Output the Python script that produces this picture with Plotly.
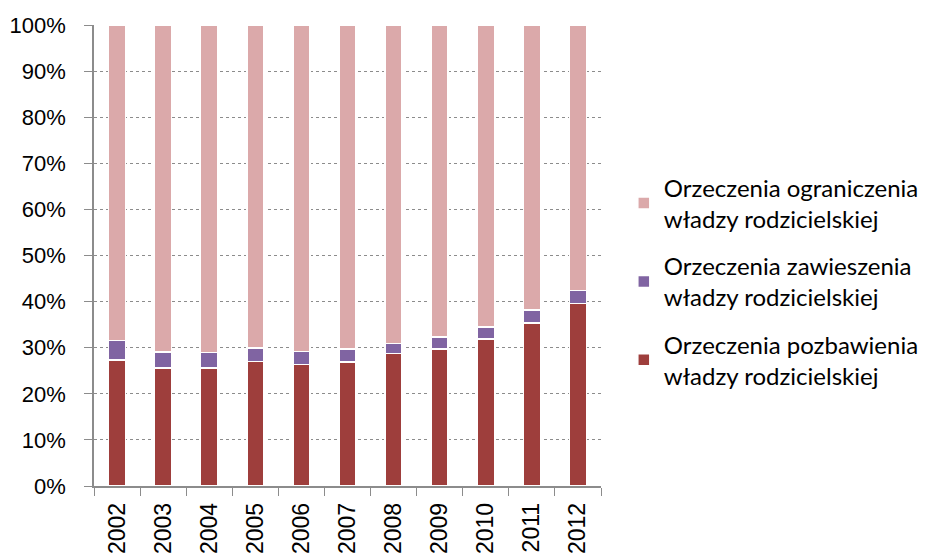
import plotly.graph_objects as go

years = ["2002", "2003", "2004", "2005", "2006", "2007", "2008", "2009", "2010", "2011", "2012"]
pozbawienia = [27.3, 25.6, 25.6, 27.0, 26.4, 26.9, 28.7, 29.7, 31.9, 35.4, 39.6]
zawieszenia = [4.3, 3.5, 3.4, 2.9, 2.8, 2.8, 2.2, 2.6, 2.6, 2.8, 2.8]
ograniczenia = [68.4, 70.9, 71.0, 70.1, 70.8, 70.3, 69.1, 67.7, 65.5, 61.8, 57.6]

names = [
    "Orzeczenia pozbawienia<br>władzy rodzicielskiej",
    "Orzeczenia zawieszenia<br>władzy rodzicielskiej",
    "Orzeczenia ograniczenia<br>władzy rodzicielskiej",
]
colors = ["#9E3E3C", "#8064A2", "#DBA9AA"]
ranks = [3, 2, 1]

fig = go.Figure()
for i, (vals, name, col) in enumerate(zip([pozbawienia, zawieszenia, ograniczenia], names, colors)):
    fig.add_trace(go.Bar(
        x=years, y=vals, name=name, legendgroup=f"g{i}", legendrank=ranks[i],
        marker=dict(color=col, line=dict(color="white", width=1.5)),
    ))

fig.update_layout(
    width=921, height=545,
    barmode="stack", barnorm="percent", bargap=0.63,
    plot_bgcolor="white", paper_bgcolor="white",
    margin=dict(l=86, r=328, t=17, b=67, autoexpand=False),
    font=dict(family="Liberation Sans, Arial", size=22, color="black"),
    legend=dict(
        x=1.045, y=0.443, xanchor="left", yanchor="middle",
        traceorder="grouped", tracegroupgap=13,
        font=dict(family="Lato", size=24, color="black"),
        itemwidth=30,
    ),
    showlegend=True,
)
fig.update_xaxes(
    type="category", showline=True, linecolor="#8C8C8C", linewidth=1.5,
    ticks="outside", tickson="boundaries", ticklen=8, tickcolor="#8C8C8C",
    tickangle=-90, showgrid=False, ticklabelstandoff=6, automargin=False,
    tickfont=dict(size=23),
)
fig.update_yaxes(
    range=[0, 100], dtick=10, ticksuffix="%", showline=True, linecolor="#8C8C8C",
    linewidth=1.5, ticks="outside", ticklen=8, tickcolor="#8C8C8C",
    showgrid=True, gridcolor="#8C8C8C", griddash="dot", gridwidth=1,
    zeroline=False, ticklabelstandoff=14, automargin=False,
)

fig.write_html("out.html")
